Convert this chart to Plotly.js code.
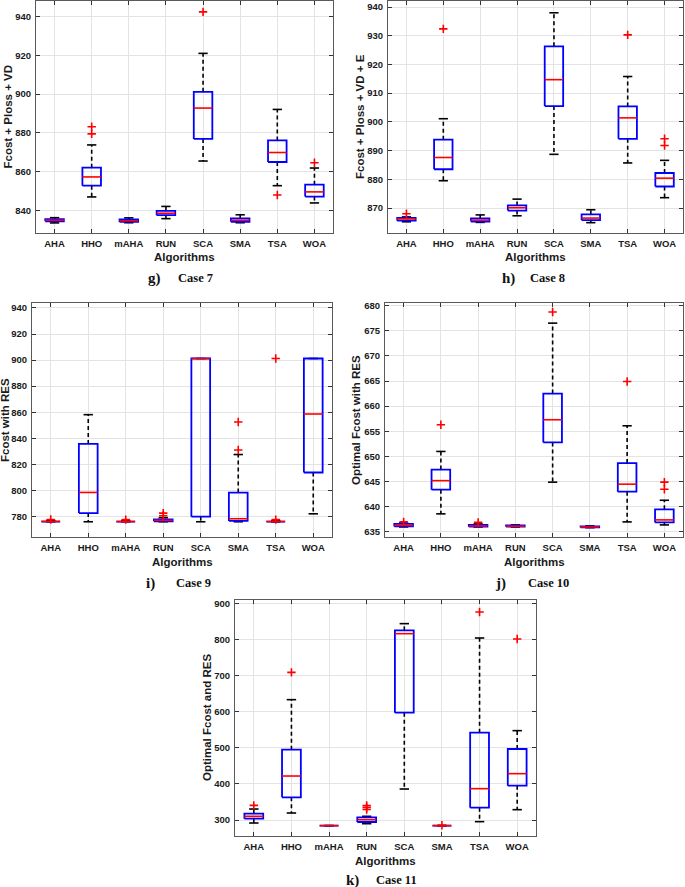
<!DOCTYPE html>
<html>
<head>
<meta charset="utf-8">
<script src="https://cdn.plot.ly/plotly-3.0.1.min.js"></script>
<style>html,body{margin:0;padding:0;background:#fff;}#chart{width:685px;height:887px;}</style>
</head>
<body>
<div id="chart"></div>
<script>
const algorithms = ['AHA','HHO','mAHA','RUN','SCA','SMA','TSA','WOA'];

// Case 7
const c7_low  = [833.6, 847.0, 833.7, 835.8, 865.5, 833.7, 852.8, 843.9];
const c7_q1   = [834.4, 852.8, 834.1, 837.6, 876.9, 834.2, 865.0, 847.2];
const c7_med  = [835.0, 857.3, 834.7, 838.6, 892.8, 835.0, 869.9, 849.6];
const c7_q3   = [835.6, 862.1, 835.4, 839.8, 901.2, 835.9, 876.1, 853.3];
const c7_high = [836.3, 873.8, 836.2, 842.1, 921.0, 837.8, 892.1, 861.9];
const c7_out  = [[], [883.2, 879.5], [], [], [942.4], [], [848.0], [864.6]];

// Case 8
const c8_low  = [865.2, 879.5, 865.0, 867.3, 888.7, 864.9, 885.7, 873.6];
const c8_q1   = [865.6, 883.5, 865.3, 869.1, 905.5, 865.8, 894.1, 877.5];
const c8_med  = [866.2, 887.6, 865.8, 870.1, 914.7, 866.5, 901.4, 880.4];
const c8_q3   = [866.6, 893.8, 866.4, 870.9, 926.3, 867.8, 905.4, 882.2];
const c8_high = [866.9, 901.1, 867.6, 873.1, 938.0, 869.4, 915.8, 886.6];
const c8_out  = [[868.0], [932.4], [], [], [], [], [930.3], [894.1, 891.8]];

// Case 9
const c9_low  = [775.9, 775.9, 775.9, 775.9, 775.9, 775.9, 775.8, 782.0];
const c9_q1   = [776.0, 782.6, 776.0, 776.2, 779.8, 776.5, 776.0, 813.7];
const c9_med  = [776.2, 798.4, 776.1, 777.0, 901.2, 778.2, 776.1, 858.6];
const c9_q3   = [776.5, 835.6, 776.4, 777.8, 901.2, 798.3, 776.4, 901.2];
const c9_high = [776.9, 858.1, 776.8, 779.0, 901.2, 827.5, 776.8, 901.2];
const c9_out  = [[777.6], [], [777.5], [780.5, 782.5], [], [831.0, 852.5], [777.5, 901.2], []];

// Case 10
const c10_low  = [636.0, 638.6, 636.0, 636.0, 644.9, 635.85, 637.0, 636.4];
const c10_q1   = [636.1, 643.4, 636.05, 636.05, 652.8, 635.9, 643.0, 636.9];
const c10_med  = [636.3, 645.2, 636.2, 636.15, 657.3, 636.0, 644.5, 637.4];
const c10_q3   = [636.6, 647.4, 636.4, 636.3, 662.5, 636.1, 648.7, 639.5];
const c10_high = [636.8, 651.0, 636.6, 636.4, 676.5, 636.2, 656.1, 641.3];
const c10_out  = [[637.0], [656.3], [636.9], [], [678.7], [], [664.9], [644.9, 643.5]];

// Case 11
const c11_low  = [291.7, 319.4, 284.0, 289.8, 385.8, 284.0, 295.4, 328.6];
const c11_q1   = [303.7, 362.7, 284.2, 294.4, 597.2, 284.2, 334.1, 395.1];
const c11_med  = [310.2, 421.8, 284.4, 300.9, 816.0, 284.4, 386.8, 428.3];
const c11_q3   = [317.5, 494.8, 284.6, 307.4, 825.2, 284.6, 541.8, 496.6];
const c11_high = [330.4, 633.2, 284.8, 310.2, 843.7, 284.8, 804.0, 547.4];
const c11_out  = [[340.6], [708.9], [], [340, 335, 329], [], [285.5], [876.0], [801.2]];

const yTitles = ['Fcost + Ploss + VD', 'Fcost + Ploss + VD + E', 'Fcost with RES', 'Optimal Fcost with RES', 'Optimal Fcost and RES'];
const capLetters = ['g)', 'h)', 'i)', 'j)', 'k)'];
const capCases = ['Case 7', 'Case 8', 'Case 9', 'Case 10', 'Case 11'];

const panels = [
  {low:c7_low, q1:c7_q1, med:c7_med, q3:c7_q3, high:c7_high, out:c7_out},
  {low:c8_low, q1:c8_q1, med:c8_med, q3:c8_q3, high:c8_high, out:c8_out},
  {low:c9_low, q1:c9_q1, med:c9_med, q3:c9_q3, high:c9_high, out:c9_out},
  {low:c10_low, q1:c10_q1, med:c10_med, q3:c10_q3, high:c10_high, out:c10_out},
  {low:c11_low, q1:c11_q1, med:c11_med, q3:c11_q3, high:c11_high, out:c11_out}
];

// layout geometry (pixels)
const W = 685, H = 887;
const geo = [
  {l:36, r:333, t:1, b:233, yr:[828.4, 948.0], dt:20, ylx:7.5, xty:257, cy:278, cl:154, cc:195},
  {l:388, r:683, t:1, b:233, yr:[861.3, 942.1], dt:10, ylx:360, xty:257, cy:278, cl:508, cc:547},
  {l:32, r:332, t:303, b:537, yr:[764.2, 943.8], dt:20, ylx:5, xty:562, cy:583, cl:150, cc:193},
  {l:385, r:683, t:303, b:537, yr:[634.0, 680.5], dt:5, ylx:356, xty:562, cy:583, cl:500, cc:548},
  {l:235, r:536, t:600, b:836, yr:[255.7, 909.2], dt:100, ylx:207, xty:861, cy:880, cl:353, cc:396}
];

const BW = 0.25, CW = 0.125;
const traces = [];
const layout = {
  width: W, height: H, margin:{l:0,r:0,t:0,b:0}, showlegend:false,
  paper_bgcolor:'#ffffff', plot_bgcolor:'#ffffff', annotations:[]
};
const tickFont = {family:'Liberation Sans, Arial, sans-serif', size:9.5, weight:700, color:'#1a1a1a'};
const titleFont = {family:'Liberation Sans, Arial, sans-serif', size:11.5, weight:700, color:'#1a1a1a'};

panels.forEach((d, p) => {
  const g = geo[p];
  const xn = p === 0 ? '' : String(p + 1);
  const xa = 'x' + xn, ya = 'y' + xn;
  const wx=[], wy=[], bx=[], by=[], mx=[], my=[], cx=[], cy=[], ox=[], oy=[];
  for (let i = 0; i < algorithms.length; i++) {
    wx.push(i, i, null, i, i, null);
    wy.push(d.q3[i], d.high[i], null, d.q1[i], d.low[i], null);
    bx.push(i-BW, i+BW, i+BW, i-BW, i-BW, null);
    by.push(d.q1[i], d.q1[i], d.q3[i], d.q3[i], d.q1[i], null);
    cx.push(i-CW, i+CW, null, i-CW, i+CW, null);
    cy.push(d.high[i], d.high[i], null, d.low[i], d.low[i], null);
    mx.push(i-BW, i+BW, null);
    my.push(d.med[i], d.med[i], null);
    d.out[i].forEach(v => { ox.push(i); oy.push(v); });
  }
  traces.push({type:'scatter', mode:'lines', x:wx, y:wy, xaxis:xa, yaxis:ya, line:{color:'#000000', width:1.6, dash:'4px,3px'}, hoverinfo:'skip'});
  traces.push({type:'scatter', mode:'lines', x:cx, y:cy, xaxis:xa, yaxis:ya, line:{color:'#000000', width:1.6}, hoverinfo:'skip'});
  traces.push({type:'scatter', mode:'lines', x:bx, y:by, xaxis:xa, yaxis:ya, line:{color:'#0000ff', width:1.8}, hoverinfo:'skip'});
  traces.push({type:'scatter', mode:'lines', x:mx, y:my, xaxis:xa, yaxis:ya, line:{color:'#ff0000', width:1.6}, hoverinfo:'skip'});
  traces.push({type:'scatter', mode:'markers', x:ox, y:oy, xaxis:xa, yaxis:ya,
    marker:{symbol:'cross-thin', size:6, color:'#ff0000', line:{color:'#ff0000', width:1.6}}, hoverinfo:'skip'});

  const tv = [];
  for (let v = Math.ceil(g.yr[0] / g.dt) * g.dt; v <= g.yr[1]; v += g.dt) tv.push(v);

  const common = {showline:true, linecolor:'#5a5a5a', linewidth:1, mirror:'ticks', ticks:'inside', ticklen:4,
    tickcolor:'#333333', tickwidth:1, showgrid:true, gridcolor:'#e3e3e3', gridwidth:1, zeroline:false,
    tickfont:tickFont, fixedrange:true};
  layout['xaxis' + xn] = Object.assign({}, common, {
    domain:[g.l / W, g.r / W], anchor:ya, range:[-0.5, 7.5],
    tickmode:'array', tickvals:algorithms.map((a, i) => i), ticktext:algorithms, ticklabelstandoff:2
  });
  layout['yaxis' + xn] = Object.assign({}, common, {
    domain:[1 - g.b / H, 1 - g.t / H], anchor:xa, range:g.yr,
    tickmode:'array', tickvals:tv, ticktext:tv.map(String), ticklabelstandoff:2
  });

  const xc = (g.l + g.r) / 2, yc = (g.t + g.b) / 2;
  layout.annotations.push({xref:'paper', yref:'paper', x:xc / W, y:1 - g.xty / H, text:'Algorithms',
    showarrow:false, xanchor:'center', yanchor:'middle', font:titleFont});
  layout.annotations.push({xref:'paper', yref:'paper', x:g.ylx / W, y:1 - yc / H, text:yTitles[p],
    showarrow:false, xanchor:'center', yanchor:'middle', textangle:-90, font:titleFont});
  layout.annotations.push({xref:'paper', yref:'paper', x:g.cl / W, y:1 - g.cy / H, text:capLetters[p],
    showarrow:false, xanchor:'center', yanchor:'middle',
    font:{family:'Liberation Serif, Times New Roman, serif', size:15, weight:700, color:'#111111'}});
  layout.annotations.push({xref:'paper', yref:'paper', x:g.cc / W, y:1 - g.cy / H, text:capCases[p],
    showarrow:false, xanchor:'center', yanchor:'middle',
    font:{family:'Liberation Serif, Times New Roman, serif', size:12.5, weight:700, color:'#111111'}});
});

Plotly.newPlot('chart', traces, layout, {staticPlot:true, displayModeBar:false});
</script>
</body>
</html>
